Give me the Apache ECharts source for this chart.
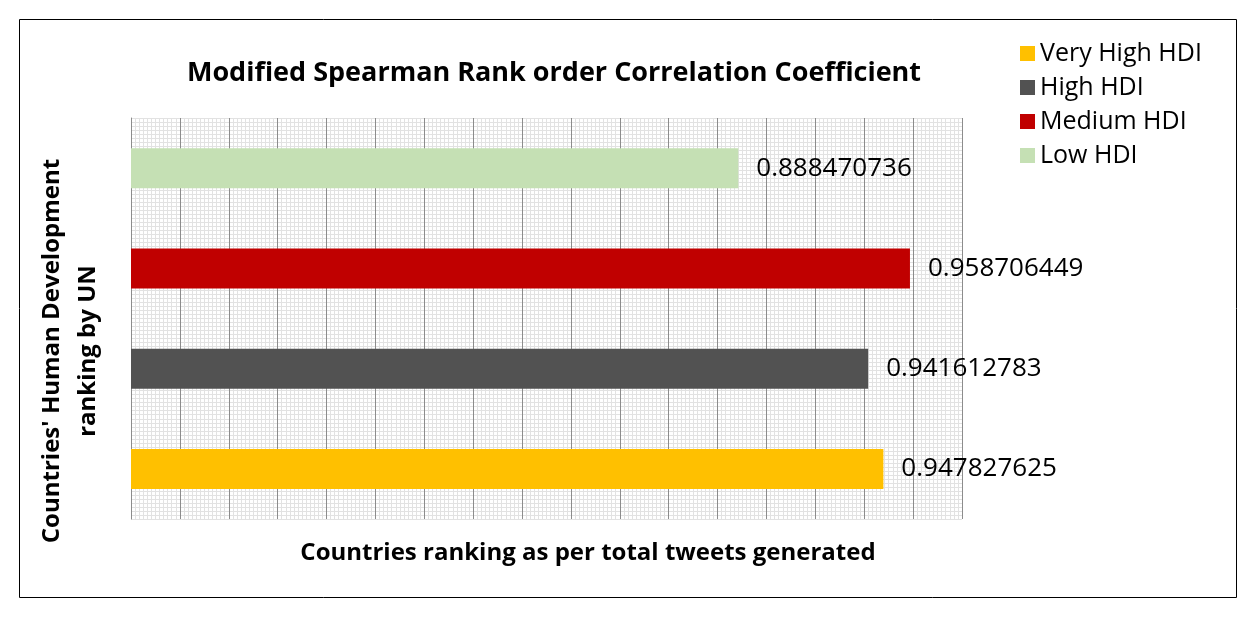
<!DOCTYPE html>
<html>
<head>
<meta charset="utf-8">
<title>Modified Spearman Rank order Correlation Coefficient</title>
<script src="https://cdn.jsdelivr.net/npm/echarts@6/dist/echarts.min.js"></script>
<style>
  html, body { margin: 0; padding: 0; background: #fff; }
  #main { width: 1250px; height: 617px; }
</style>
</head>
<body>
<div id="main"></div>
<script type="text/javascript">
    var categories = ['Very High HDI', 'High HDI', 'Medium HDI', 'Low HDI'];
    var seriesNames = ['Very High HDI', 'High HDI', 'Medium HDI', 'Low HDI'];
    var values = [0.947827625, 0.941612783, 0.958706449, 0.888470736];
    var colors = ['#ffc000', '#525252', '#c00000', '#c5e0b4'];

    var FONT = '"Open Sans", "Noto Sans", sans-serif';

    var chart = echarts.init(document.getElementById('main'));

    // one series per HDI group, each only filled on its own category
    var series = seriesNames.map(function (name, i) {
        var data = categories.map(function (c, j) { return j === i ? values[i] : '-'; });
        return {
            name: name,
            type: 'bar',
            stack: 'hdi',
            barWidth: 40,
            itemStyle: { color: colors[i] },
            label: {
                show: true,
                position: 'right',
                distance: 18,
                color: '#000',
                fontFamily: FONT,
                fontSize: 26,
                formatter: function (p) { return String(p.value); }
            },
            data: data
        };
    });

    chart.setOption({
        animation: false,
        textStyle: { fontFamily: FONT },
        legend: {
            orient: 'vertical',
            left: 1015,
            top: 36,
            icon: 'rect',
            itemWidth: 15,
            itemHeight: 15,
            itemGap: 9,
            textStyle: { fontSize: 25, color: '#000', fontFamily: FONT }
        },
        grid: { left: 131, right: 288, top: 118, bottom: 98, containLabel: false },
        xAxis: {
            type: 'value',
            min: 0.64,
            max: 0.98,
            interval: 0.02,
            axisLine: { show: false },
            axisTick: { show: false },
            axisLabel: { show: false },
            splitLine: { show: true, lineStyle: { color: '#8c8c8c', width: 1 } },
            minorTick: { show: false, splitNumber: 12 },
            minorSplitLine: { show: true, lineStyle: { color: '#e2e2e2', width: 1 } }
        },
        yAxis: [{
            type: 'category',
            data: categories,
            axisLine: { show: true, lineStyle: { color: '#8c8c8c' } },
            axisTick: { show: false },
            axisLabel: { show: false },
            splitLine: { show: false }
        }, {
            // hidden helper axis only to draw the fine horizontal grid
            type: 'value',
            min: 0,
            max: 100,
            interval: 10,
            position: 'right',
            axisLine: { show: false },
            axisTick: { show: false },
            axisLabel: { show: false },
            splitLine: { show: true, lineStyle: { color: '#e2e2e2', width: 1 } },
            minorTick: { show: false, splitNumber: 10 },
            minorSplitLine: { show: true, lineStyle: { color: '#e2e2e2', width: 1 } }
        }],
        series: series,
        graphic: [
            {
                type: 'rect',
                shape: { x: 19.5, y: 19.5, width: 1217, height: 578 },
                style: { fill: 'none', stroke: '#000', lineWidth: 1 },
                silent: true
            },
            {
                type: 'text',
                x: 554, y: 73,
                style: {
                    text: 'Modified Spearman Rank order Correlation Coefficient',
                    fill: '#000', font: 'bold 27px ' + FONT,
                    textAlign: 'center', textVerticalAlign: 'middle'
                }
            },
            {
                type: 'text',
                x: 588, y: 553,
                style: {
                    text: 'Countries ranking as per total tweets generated',
                    fill: '#000', font: 'bold 24px ' + FONT,
                    textAlign: 'center', textVerticalAlign: 'middle'
                }
            },
            {
                type: 'text',
                x: 70, y: 351,
                rotation: Math.PI / 2,
                style: {
                    text: "Countries' Human Development\nranking by UN",
                    fill: '#000', font: 'bold 24px ' + FONT,
                    lineHeight: 36,
                    textAlign: 'center', textVerticalAlign: 'middle'
                }
            }
        ]
    });
</script>
</body>
</html>
